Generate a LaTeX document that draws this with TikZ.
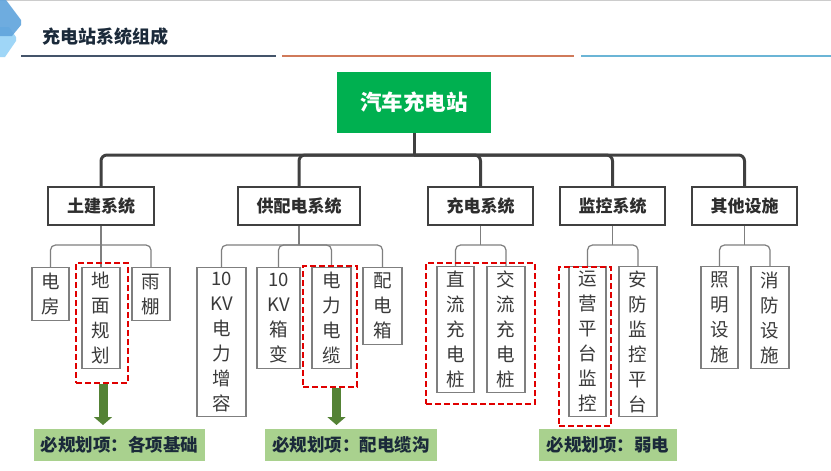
\documentclass[tikz,border=0pt]{standalone}
\usepackage{fontspec}
\newfontfamily\cjk{Noto Sans CJK SC}
\usetikzlibrary{arrows.meta}
\definecolor{rootgreen}{HTML}{00B050}
\definecolor{lonegray}{HTML}{404040}
\definecolor{ltwogray}{HTML}{7F7F7F}
\definecolor{txtgray}{HTML}{3A3A3A}
\definecolor{redd}{HTML}{E00000}
\definecolor{arrgreen}{HTML}{548235}
\definecolor{labgreen}{HTML}{A9D18E}
\definecolor{navy}{HTML}{1B2A3A}
\definecolor{hdark}{HTML}{44546A}
\definecolor{horange}{HTML}{D07A5A}
\definecolor{hblue}{HTML}{6BB5D6}
\definecolor{chevA}{HTML}{5FA3DC}
\definecolor{chevB}{HTML}{9FD6F7}
\tikzset{
  rootbox/.style={fill=rootgreen, draw=none, text=white, font=\cjk\bfseries\fontsize{21.5}{25}\selectfont, minimum width=154pt, minimum height=61pt, inner sep=0pt},
  lonebox/.style={draw=lonegray, line width=1.5pt, fill=white, text=lonegray!70!black, font=\cjk\bfseries\fontsize{17}{20}\selectfont, minimum height=38pt, inner sep=0pt},
  ltwobox/.style={draw=ltwogray, line width=1.2pt, fill=white, text=txtgray, font=\cjk\fontsize{18.5}{25}\selectfont, align=center, inner sep=0pt, anchor=north},
  bus/.style={draw=lonegray, line width=3pt, rounded corners=6pt},
  subline/.style={draw=ltwogray, line width=1.2pt, rounded corners=5pt},
  reddash/.style={draw=redd, line width=1.6pt, dash pattern=on 6pt off 3pt, inner sep=0pt},
  garrow/.style={draw=arrgreen, line width=9pt, -{Triangle[width=18pt,length=8pt]}},
  labbox/.style={fill=labgreen, draw=none, text=navy, font=\cjk\bfseries\fontsize{17.5}{20}\selectfont, minimum height=32pt, inner sep=0pt},
}
\begin{document}
\begin{tikzpicture}[x=1pt,y=-1pt]
\useasboundingbox (0,0) rectangle (831,471);
\fill[white] (0,0) rectangle (831,471);
% header
\draw[gray!40, line width=1pt] (0,0.8) -- (831,0.8);
\fill[chevB] (0,27) -- (9,27) -- (16,37) -- (16,41) -- (5,57) -- (0,57) -- cycle;
\fill[chevA, opacity=0.9] (0,0) -- (6,0) -- (21,20) -- (21,25) -- (12,36) -- (0,36) -- cycle;
\node[anchor=west, text=navy, font=\cjk\bfseries\fontsize{18}{20}\selectfont, inner sep=0pt] (title) at (42,37) {充电站系统组成};
\draw[hdark, line width=2pt] (21,56) -- (276,56);
\draw[horange, line width=2pt] (282,56) -- (574,56);
\draw[hblue, line width=2pt] (581,56) -- (831,56);

% root
\node[rootbox] (root) at (414,102.5) {汽车充电站};
% level 1
\node[lonebox, minimum width=106pt] (tj) at (101,206) {土建系统};
\node[lonebox, minimum width=122pt] (gp) at (299,206) {供配电系统};
\node[lonebox, minimum width=105pt] (cd) at (480.5,206) {充电系统};
\node[lonebox, minimum width=105pt] (jk) at (612.5,206) {监控系统};
\node[lonebox, minimum width=105pt] (qt) at (744.5,206) {其他设施};
% main bus
\coordinate (bus) at (414,155);
\draw[bus] (root.south) -- (bus);
\draw[bus] (tj.north) |- (bus) -| (qt.north);
\draw[bus] (gp.north) |- (bus);
\draw[bus] (bus) -| (cd.north);
\draw[bus] (bus) -| (jk.north);

% level 2
\node[ltwobox, minimum width=37pt, minimum height=53pt] (a1) at (50.5,267) {电\\房};
\node[ltwobox, minimum width=38pt, minimum height=101pt] (a2) at (101,267) {地\\面\\规\\划};
\node[ltwobox, minimum width=38pt, minimum height=53pt] (a3) at (151,267) {雨\\棚};
\node[ltwobox, minimum width=49pt, minimum height=149pt] (b1) at (221.5,267) {10\\KV\\电\\力\\增\\容};
\node[ltwobox, minimum width=43pt, minimum height=101pt] (b2) at (278.5,267) {10\\KV\\箱\\变};
\node[ltwobox, minimum width=39pt, minimum height=101pt] (b3) at (331.5,267) {电\\力\\电\\缆};
\node[ltwobox, minimum width=39pt, minimum height=77pt] (b4) at (382.5,267) {配\\电\\箱};
\node[ltwobox, minimum width=37pt, minimum height=126pt] (c1) at (455.5,266) {直\\流\\充\\电\\桩};
\node[ltwobox, minimum width=38pt, minimum height=126pt] (c2) at (506,266) {交\\流\\充\\电\\桩};
\node[ltwobox, minimum width=37pt, minimum height=150pt] (d1) at (587.5,266) {运\\营\\平\\台\\监\\控};
\node[ltwobox, minimum width=38pt, minimum height=150pt] (d2) at (638,266) {安\\防\\监\\控\\平\\台};
\node[ltwobox, minimum width=37pt, minimum height=102pt] (e1) at (719.5,266) {照\\明\\设\\施};
\node[ltwobox, minimum width=38pt, minimum height=102pt] (e2) at (770,266) {消\\防\\设\\施};

% sub buses
\coordinate (tjb) at (101,245);
\coordinate (gpb) at (299,245);
\coordinate (cdb) at (480.5,245);
\coordinate (jkb) at (612.5,245);
\coordinate (qtb) at (744.5,245);
\draw[subline] (tj.south) -- (tjb);
\draw[subline] (a1.north) |- (tjb) -| (a3.north);
\draw[subline] (tjb) -- (a2.north);
\draw[subline] (gp.south) -- (gpb);
\draw[subline] (b1.north) |- (gpb) -| (b4.north);
\draw[subline] (b2.north) |- (gpb);
\draw[subline] (gpb) -| (b3.north);
\draw[subline] (cd.south) -- (cdb);
\draw[subline] (c1.north) |- (cdb) -| (c2.north);
\draw[subline] (jk.south) -- (jkb);
\draw[subline] (d1.north) |- (jkb) -| (d2.north);
\draw[subline] (qt.south) -- (qtb);
\draw[subline] (e1.north) |- (qtb) -| (e2.north);

% red dashed frames
\node[reddash, minimum width=52pt, minimum height=120pt] (r1) at (102,323) {};
\node[reddash, minimum width=54pt, minimum height=121pt] (r2) at (330,326.5) {};
\node[reddash, minimum width=109pt, minimum height=141pt] (r3) at (480.5,333.5) {};
\node[reddash, minimum width=52pt, minimum height=159pt] (r4) at (585,346.5) {};

% labels
\node[labbox, minimum width=171pt] (lab1) at (119.5,445) {必规划项：各项基础};
\node[labbox, minimum width=172pt] (lab2) at (351,445) {必规划项：配电缆沟};
\node[labbox, minimum width=138pt] (lab3) at (608,444.5) {必规划项：弱电};

% arrows
\coordinate (ar1) at (103,425);
\coordinate (ar2) at (336.5,425);
\draw[garrow] (r1.south -| ar1) -- (ar1);
\draw[garrow] (r2.south -| ar2) -- (ar2);
\end{tikzpicture}
\end{document}
